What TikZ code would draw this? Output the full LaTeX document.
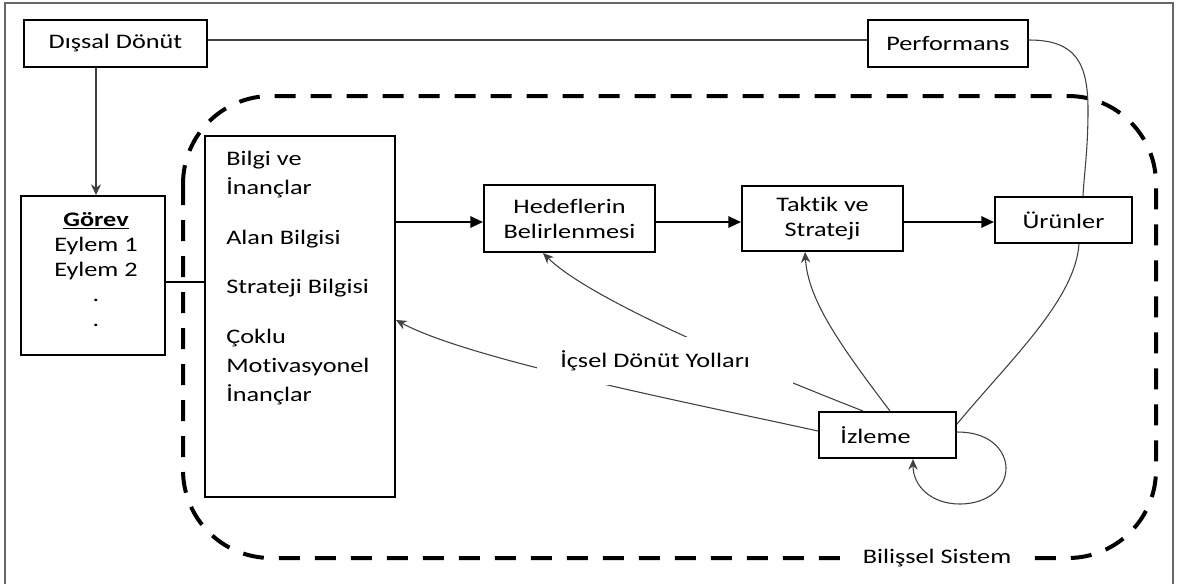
\documentclass[tikz,border=0pt]{standalone}
\usepackage{fontspec}
\setmainfont{Carlito}[FakeStretch=1.27, Ligatures=NoCommon]
\usetikzlibrary{arrows.meta}
\begin{document}
\begin{tikzpicture}[x=0.75pt,y=-0.75pt,
  font=\fontsize{15.5}{18.75}\selectfont,
  box/.style={draw=black, line width=1.5pt, fill=white, inner sep=0pt, align=center},
  textblock/.style={inner sep=0pt},
  thicklink/.style={line width=1.5pt, -{Triangle[length=9.5pt,width=8.5pt]}},
  thinlink/.style={draw=black!75, line width=0.8pt},
  fb/.style={thinlink, -{Stealth[length=8pt,width=7pt]}},
  system/.style={line width=3pt, dash pattern=on 15.75pt off 11.25pt, rounded corners=66pt},
  frame/.style={draw=black!60, line width=1.1pt},
  tag/.style={fill=white, inner sep=0pt}
]
\useasboundingbox (0,0) rectangle (1181,583);
\fill[white] (0,0) rectangle (1181,583);

% outer frame
\draw[frame] (5,590) -- (5,3) -- (1173,3) -- (1173,590);

% cognitive system boundary
\draw[system] (183,96) rectangle (1156,558);

% reference levels for connectors
\coordinate (dgx) at (96,0);
\coordinate (ly) at (0,40);
\coordinate (ay) at (0,222);
\coordinate (gy) at (0,282);
\coordinate (pu) at (1083,0);
\coordinate (ux) at (1079,0);
\coordinate (iy) at (0,424);
\coordinate (f1s) at (0,431);
\coordinate (f1e) at (0,320);
\coordinate (f2s) at (863,0);
\coordinate (f2e) at (543,0);
\coordinate (f3s) at (890,0);
\coordinate (f3e) at (805,0);
\coordinate (slp) at (0,432);
\coordinate (slq) at (913,0);

% boxes
\node[box, minimum width=137.25pt, minimum height=35.25pt] (dd) at (115.5,43.5) {Dışsal Dönüt};
\node[box, minimum width=120pt, minimum height=35.25pt] (perf) at (948,43.5) {Performans};
\node[box, minimum width=108pt, minimum height=119.25pt] (gorev) at (93,275.5) {};
\node[textblock, align=center] (gorevyazi) at (96,269.3) {\underline{\textbf{Görev}}\\Eylem 1\\Eylem 2\\.\\.};
\node[box, minimum width=142.5pt, minimum height=270.75pt] (bilgi) at (300,316.5) {};
\node[textblock, align=left, anchor=north west, font=\fontsize{15.5}{21.75}\selectfont] (bilgiyazi) at (226,151)
  {Bilgi ve\\İnançlar\\[15.5pt]Alan Bilgisi\\[15.5pt]Strateji Bilgisi\\[15.5pt]Çoklu\\Motivasyonel\\İnançlar};
\node[box, minimum width=128.25pt, minimum height=50.25pt] (hedef) at (569.5,218.5) {Hedeflerin\\Belirlenmesi};
\node[box, minimum width=120.75pt, minimum height=48.75pt] (taktik) at (822.5,218.5) {Taktik ve\\Strateji};
\node[box, minimum width=102.75pt, minimum height=34.5pt] (urun) at (1063.5,220) {Ürünler};
\node[box, minimum width=102.75pt, minimum height=34.5pt] (izleme) at (887.5,435) {İzleme\hspace*{18pt}};

% external loop
\draw[thinlink, -{Stealth[length=8pt,width=7.5pt]}] (dd.south -| dgx) -- (gorev.north -| dgx);
\draw[thinlink] (dd.east |- ly) -- (perf.west |- ly);
\draw[thinlink] (perf.east |- ly) .. controls (1075,40) and (1088,62) .. (1088,110)
  .. controls (1088,150) and (1084,175) .. (urun.north -| pu);

% main chain
\draw[line width=1.5pt] (gorev.east |- gy) -- (bilgi.west |- gy);
\draw[thicklink] (bilgi.east |- ay) -- (hedef.west |- ay);
\draw[thicklink] (hedef.east |- ay) -- (taktik.west |- ay);
\draw[thicklink] (taktik.east |- ay) -- (urun.west |- ay);

% internal feedback paths
\draw[fb] (izleme.west |- f1s) .. controls (700,405) and (470,360) .. (bilgi.east |- f1e);
\draw[fb] (izleme.north -| f2s) .. controls (720,355) and (585,295) .. (hedef.south -| f2e);
\draw[fb] (izleme.north -| f3s) .. controls (840,345) and (808,300) .. (taktik.south -| f3e);
\draw[thinlink] (urun.south -| ux) .. controls (1075,300) and (1010,360) .. (izleme.east |- iy);
\draw[fb] (izleme.east |- slp) .. controls (995,432) and (1006,455) .. (1006,468)
  .. controls (1006,490) and (985,504) .. (960,504)
  .. controls (930,504) and (913,485) .. (izleme.south -| slq);

% labels
\node[tag, minimum height=36pt, anchor=west] (icsel) at (537,361)
  {\hspace*{17.25pt}İçsel Dönüt Yolları\hspace*{32.25pt}};
\node[tag, inner xsep=11pt, inner ysep=2pt] (sistem) at (937,558) {Bilişsel Sistem};
\end{tikzpicture}
\end{document}
